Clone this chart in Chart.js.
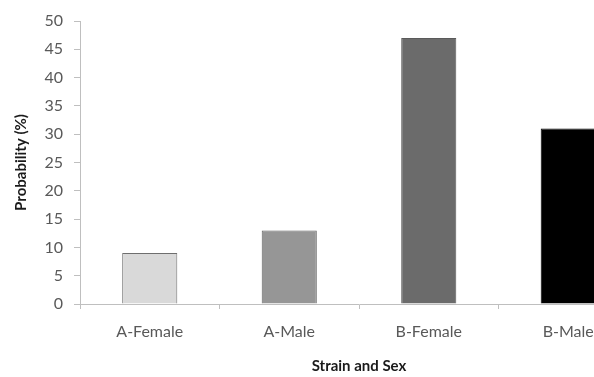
<!DOCTYPE html>
<html>
<head>
    <meta charset="utf-8">
    <title>Probability by Strain and Sex</title>
    <script src="https://cdn.jsdelivr.net/npm/chart.js"></script>
    <style>
        html, body {
            margin: 0;
            padding: 0;
            background: #fff;
            overflow: hidden;
        }
        /* the original figure is cropped on the right, so the canvas is wider than the window */
        #wrap {
            width: 594px;
            height: 377px;
            overflow: hidden;
        }
    </style>
</head>
<body>
    <div id="wrap">
        <canvas id="probChart" width="640" height="377"></canvas>
    </div>
    <script>
        // Data
        const categories = ['A-Female', 'A-Male', 'B-Female', 'B-Male'];
        const probability = [9, 13, 47, 31];
        const barColors = ['#d9d9d9', '#969696', '#6b6b6b', '#000000'];
        const borderColors = ['#6e6e6e', '#616161', '#5a5a5a', '#000000'];

        const labelFont = { family: 'Lato', size: 16 };
        const titleFont = { family: 'Lato', size: 15, weight: 'bold' };

        new Chart(document.getElementById('probChart'), {
            type: 'bar',
            data: {
                labels: categories,
                datasets: [{
                    label: 'Probability (%)',
                    data: probability,
                    backgroundColor: barColors,
                    borderColor: borderColors,
                    borderWidth: 1,
                    barPercentage: 0.395,
                    categoryPercentage: 1
                }]
            },
            options: {
                responsive: false,
                animation: false,
                devicePixelRatio: 1,
                layout: {
                    padding: { top: 21, right: 2, left: 0, bottom: 0 }
                },
                plugins: {
                    legend: { display: false },
                    tooltip: { enabled: false }
                },
                scales: {
                    x: {
                        afterFit: function(scale) { scale.height = 73; },
                        grid: {
                            drawOnChartArea: false,
                            drawTicks: true,
                            tickLength: 5,
                            color: '#bfbfbf'
                        },
                        border: { color: '#bfbfbf' },
                        ticks: {
                            color: '#595959',
                            font: labelFont,
                            padding: 13
                        },
                        title: {
                            display: true,
                            text: 'Strain and Sex',
                            color: '#1a1a1a',
                            font: titleFont,
                            padding: { top: 0, bottom: 2 }
                        }
                    },
                    y: {
                        min: 0,
                        max: 50,
                        afterFit: function(scale) { scale.width = 80; },
                        grid: {
                            drawOnChartArea: false,
                            drawTicks: true,
                            tickLength: 6,
                            color: '#bfbfbf'
                        },
                        border: { color: '#bfbfbf' },
                        ticks: {
                            stepSize: 5,
                            color: '#595959',
                            font: labelFont,
                            padding: 11
                        },
                        title: {
                            display: true,
                            text: 'Probability (%)',
                            color: '#1a1a1a',
                            font: titleFont,
                            padding: { top: 12, bottom: 0 }
                        }
                    }
                }
            }
        });
    </script>
</body>
</html>
